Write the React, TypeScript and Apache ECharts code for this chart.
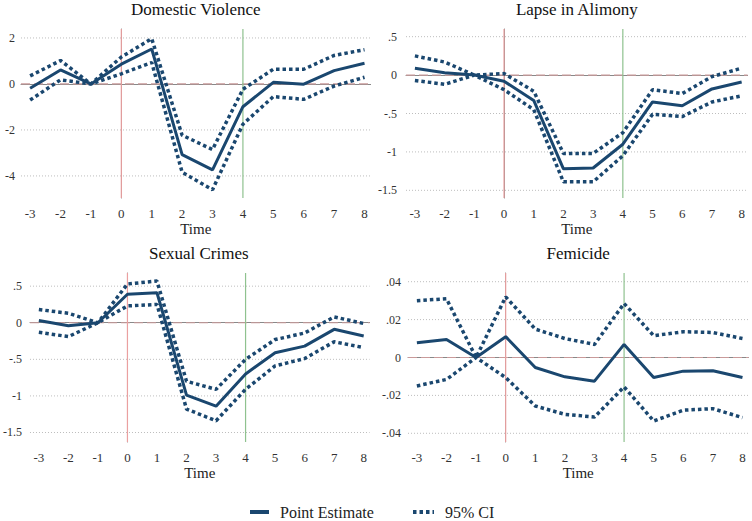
import { useEffect, useRef } from "react";
import * as echarts from "echarts";

// event time (periods relative to the reform)
const TIMES = [-3, -2, -1, 0, 1, 2, 3, 4, 5, 6, 7, 8];

const DV_POINT = [-0.19, 0.61, 0, 0.86, 1.52, -3.07, -3.74, -0.99, 0.07, -0.01, 0.58, 0.9];
const DV_UPPER = [0.35, 1.02, 0, 1.17, 1.97, -2.23, -2.85, -0.23, 0.64, 0.64, 1.24, 1.49];
const DV_LOWER = [-0.7, 0.18, 0, 0.44, 0.93, -3.84, -4.6, -1.75, -0.55, -0.67, -0.09, 0.29];
const DV_TICKS = [-4, -2, 0, 2];
const DV_LABELS = ["-4", "-2", "0", "2"];

const LA_POINT = [0.09, 0.03, 0, -0.08, -0.33, -1.22, -1.21, -0.9, -0.35, -0.4, -0.18, -0.09];
const LA_UPPER = [0.25, 0.17, 0, 0.02, -0.21, -1.02, -1.02, -0.75, -0.19, -0.24, -0.02, 0.09];
const LA_LOWER = [-0.07, -0.12, 0, -0.19, -0.45, -1.39, -1.39, -1.05, -0.51, -0.54, -0.35, -0.27];
const LA_TICKS = [-1.5, -1, -0.5, 0, 0.5];
const LA_LABELS = ["-1.5", "-1", "-.5", "0", ".5"];

const SC_POINT = [0.03, -0.04, 0, 0.39, 0.41, -0.99, -1.14, -0.7, -0.41, -0.32, -0.09, -0.18];
const SC_UPPER = [0.18, 0.13, 0, 0.53, 0.57, -0.8, -0.91, -0.5, -0.23, -0.14, 0.08, -0.01];
const SC_LOWER = [-0.13, -0.19, 0, 0.23, 0.25, -1.18, -1.34, -0.91, -0.59, -0.49, -0.26, -0.34];
const SC_TICKS = [-1.5, -1, -0.5, 0, 0.5];
const SC_LABELS = ["-1.5", "-1", "-.5", "0", ".5"];

const FE_POINT = [0.0078, 0.0095, 0, 0.011, -0.0053, -0.0102, -0.0125, 0.0069, -0.0106, -0.0072, -0.007, -0.0106];
const FE_UPPER = [0.03, 0.031, 0, 0.032, 0.015, 0.01, 0.0069, 0.0285, 0.0115, 0.0136, 0.0132, 0.01];
const FE_LOWER = [-0.015, -0.0116, 0, -0.0106, -0.0256, -0.03, -0.0314, -0.0155, -0.0335, -0.0278, -0.027, -0.0317];
const FE_TICKS = [-0.04, -0.02, 0, 0.02, 0.04];
const FE_LABELS = ["-.04", "-.02", "0", ".02", ".04"];

// reform start and end periods
const START_T = 0;
const END_T = 4;

const X_MIN = -3.3;
const X_MAX = 8.2;

const FONT = "'Liberation Serif', serif";
const NAVY = "#1a476f";

const panels = [
  { title: "Domestic Violence", point: DV_POINT, upper: DV_UPPER, lower: DV_LOWER, ticks: DV_TICKS, labels: DV_LABELS,
    left: 21, top: 29, width: 349.6, yMin: -4.96, yMax: 2.39, labelMargin: 6 },
  { title: "Lapse in Alimony", point: LA_POINT, upper: LA_UPPER, lower: LA_LOWER, ticks: LA_TICKS, labels: LA_LABELS,
    left: 406, top: 29, width: 341.6, yMin: -1.6, yMax: 0.6, labelMargin: 9 },
  { title: "Sexual Crimes", point: SC_POINT, upper: SC_UPPER, lower: SC_LOWER, ticks: SC_TICKS, labels: SC_LABELS,
    left: 28, top: 273, width: 341.6, yMin: -1.63, yMax: 0.68, labelMargin: 8 },
  { title: "Femicide", point: FE_POINT, upper: FE_UPPER, lower: FE_LOWER, ticks: FE_TICKS, labels: FE_LABELS,
    left: 408, top: 273, width: 340.4, yMin: -0.0446, yMax: 0.0446, labelMargin: 7 },
];

const PLOT_H = 169;

export default function App() {
  const ref = useRef<HTMLDivElement>(null);

  useEffect(() => {
    if (!ref.current) return;
    const chart = echarts.init(ref.current, undefined, { renderer: "svg" });

    const pairs = (ys: number[]) => TIMES.map((t, i) => [t, ys[i]]);
    const grid: any[] = [];
    const xAxis: any[] = [];
    const yAxis: any[] = [];
    const series: any[] = [];
    const graphic: any[] = [];

    panels.forEach((p, k) => {
      grid.push({ left: p.left, top: p.top, width: p.width, height: PLOT_H });
      xAxis.push({
        gridIndex: k, type: "value", min: X_MIN, max: X_MAX,
        name: "Time", nameLocation: "middle", nameGap: 23,
        nameTextStyle: { fontFamily: FONT, fontSize: 15, color: "#222" },
        axisLine: { lineStyle: { color: "#888" } },
        axisTick: { show: false },
        splitLine: { show: false },
        axisLabel: { customValues: TIMES, fontFamily: FONT, fontSize: 13, color: "#333", margin: 9 },
      });
      yAxis.push({
        gridIndex: k, type: "value", min: p.yMin, max: p.yMax,
        axisLine: { show: true, lineStyle: { color: "#888" } },
        axisTick: { show: false },
        splitLine: { show: false },
        axisLabel: {
          customValues: p.ticks, fontFamily: FONT, fontSize: 12, color: "#333", margin: p.labelMargin,
          formatter: (v: number) => {
            const i = p.ticks.findIndex((t) => Math.abs(t - v) < 1e-9);
            return i >= 0 ? p.labels[i] : "";
          },
        },
      });

      // guide lines as plain two-point line series, drawn under the estimates
      const guide = (data: number[][], lineStyle: any) => ({
        type: "line", xAxisIndex: k, yAxisIndex: k, data, showSymbol: false, silent: true, z: 1, lineStyle,
      });
      p.ticks.filter((t) => t !== 0).forEach((t) =>
        series.push(guide([[X_MIN, t], [X_MAX, t]], { color: "#bdbdbd", type: [1, 2], width: 1 })));
      series.push(guide([[X_MIN, 0], [X_MAX, 0]], { color: "#c99a9a", type: [9, 4], width: 1.2 }));
      series.push(guide([[START_T, p.yMin], [START_T, p.yMax]], { color: "#eaa0a0", width: 1.2 }));
      series.push(guide([[END_T, p.yMin], [END_T, p.yMax]], { color: "#8fc28f", width: 1.2 }));

      const ci = { color: NAVY, width: 3.5, type: [3.5, 3], cap: "butt" };
      series.push({ type: "line", xAxisIndex: k, yAxisIndex: k, data: pairs(p.upper), showSymbol: false, lineStyle: ci, z: 3 });
      series.push({ type: "line", xAxisIndex: k, yAxisIndex: k, data: pairs(p.lower), showSymbol: false, lineStyle: ci, z: 3 });
      series.push({ type: "line", xAxisIndex: k, yAxisIndex: k, data: pairs(p.point), showSymbol: false,
        lineStyle: { color: NAVY, width: 3 }, z: 4 });
      graphic.push({
        type: "text", x: p.left + p.width / 2, y: p.top - 20,
        style: { text: p.title, fontFamily: FONT, fontSize: 17, fill: "#111", textAlign: "center", textVerticalAlign: "middle" },
      });
    });

    // legend
    graphic.push(
      { type: "line", shape: { x1: 250, y1: 512, x2: 269, y2: 512 }, style: { stroke: NAVY, lineWidth: 4 } },
      { type: "text", x: 280, y: 512, style: { text: "Point Estimate", fontFamily: FONT, fontSize: 16, fill: "#222", textVerticalAlign: "middle" } },
      { type: "line", shape: { x1: 413, y1: 512, x2: 434, y2: 512 }, style: { stroke: NAVY, lineWidth: 4, lineDash: [3.5, 3] } },
      { type: "text", x: 445, y: 512, style: { text: "95% CI", fontFamily: FONT, fontSize: 16, fill: "#222", textVerticalAlign: "middle" } },
    );

    chart.setOption({
      animation: false,
      backgroundColor: "#fff",
      grid, xAxis, yAxis, series, graphic,
    });
    return () => chart.dispose();
  }, []);

  return <div ref={ref} style={{ position: "fixed", left: 0, top: 0, width: 752, height: 521 }} />;
}
